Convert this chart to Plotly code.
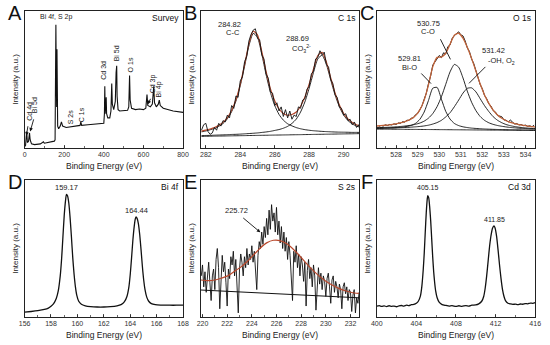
import plotly.graph_objects as go

FONT = "Liberation Sans, Arial, sans-serif"

# ---------------- A: survey ----------------
survey_be = [0, 5, 8, 11, 14, 20, 25, 28, 35, 50, 80, 95, 100, 120, 140, 150, 154, 156, 158, 160, 162,
             163.5, 165, 167, 172, 180, 186, 192, 210, 230, 260, 280, 284, 288, 320, 360, 395, 400, 403,
             405, 407, 410, 412, 414, 420, 430, 436, 440, 443, 450, 458, 462, 465, 467, 472, 480, 500,
             520, 526, 530, 533, 540, 560, 580, 600, 612, 618, 622, 635, 645, 652, 656, 665, 675, 680,
             685, 700, 750, 800]
survey_int = [1, 2, 8, 12, 4, 5, 11, 6, 3, 2.5, 3, 4.5, 3.5, 4, 4.5, 5, 6, 40, 90, 50, 30,
              72, 40, 16, 14, 16, 19, 16, 15, 15.5, 16, 16.5, 19, 16.5, 17, 17.5, 17.5, 18, 25,
              45, 25, 30, 37, 25, 22, 22, 27, 47, 32, 28, 34, 55, 60, 38, 28, 27, 27,
              27.5, 30, 53, 35, 29, 28, 28.5, 28, 29, 39, 31, 30, 32, 45, 33, 30, 32, 35,
              31, 29, 27, 26]

# ---------------- B: C 1s ----------------
c1s_be = [281.75 + 0.25 * i for i in range(38)]
c1s_bg = [8.5, 8.55, 8.61, 8.66, 8.72, 8.77, 8.82, 8.88, 8.93, 8.99, 9.04, 9.1, 9.15, 9.2, 9.26, 9.31,
          9.37, 9.42, 9.47, 9.53, 9.58, 9.64, 9.69, 9.74, 9.8, 9.85, 9.91, 9.96, 10.02, 10.07, 10.12,
          10.18, 10.23, 10.29, 10.34, 10.39, 10.45, 10.5]
c1s_cc = [11.8, 12.45, 13.31, 14.26, 15.82, 17.87, 21.32, 26.58, 34.33, 45.49, 59.64, 74.5, 83.65,
          80.8, 68.36, 53.51, 40.57, 31.02, 24.47, 20.33, 17.68, 16.14, 14.89, 14.04, 13.4, 12.95,
          12.61, 12.36, 12.12, 11.97, 11.82, 11.68, 11.58, 11.54, 11.49, 11.39, 11.4, 11.4]
c1s_co3 = [9.0, 9.15, 9.21, 9.36, 9.47, 9.57, 9.72, 9.88, 9.98, 10.14, 10.34, 10.55, 10.75, 11.0,
           11.36, 11.71, 12.17, 12.82, 13.47, 14.43, 15.78, 17.94, 21.09, 26.24, 33.6, 43.65, 55.11,
           65.06, 67.72, 60.97, 49.72, 38.88, 30.23, 24.09, 20.04, 17.59, 15.95, 15.0]
c1s_env = [12.3, 13.05, 13.91, 14.96, 16.57, 18.67, 22.22, 27.58, 35.38, 46.64, 60.94, 75.95, 85.25,
           82.6, 70.46, 55.91, 43.4, 34.42, 28.47, 25.23, 23.88, 24.44, 26.29, 30.54, 37.2, 46.75,
           57.81, 67.46, 69.82, 62.87, 51.42, 40.38, 31.58, 25.34, 21.19, 18.59, 16.9, 15.9]
c1s_raw_be = [281.75 + 0.125 * i for i in range(75)]
c1s_raw = [13, 17, 18, 12, 10, 11, 15, 13, 18, 16, 20, 19, 24, 22, 31, 29, 38, 37, 49, 52, 63, 67,
           78, 83, 86, 87, 80, 79, 68, 65, 54, 51, 41, 40, 31, 33, 27, 30, 23, 28, 22, 27, 21, 24,
           23, 30, 29, 35, 36, 43, 45, 54, 56, 65, 66, 71, 68, 70, 61, 59, 50, 47, 39, 37, 30, 29,
           24, 25, 20, 21, 17, 19, 15, 17, 12]

# ---------------- C: O 1s ----------------
o1s_be = [527.1 + 0.2 * i for i in range(38)]
o1s_bg = [13.8, 13.77, 13.75, 13.72, 13.69, 13.67, 13.64, 13.61, 13.58, 13.56, 13.53, 13.5, 13.48,
          13.45, 13.42, 13.4, 13.37, 13.34, 13.31, 13.29, 13.26, 13.23, 13.2, 13.18, 13.15, 13.12,
          13.1, 13.07, 13.04, 13.02, 12.99, 12.96, 12.94, 12.91, 12.88, 12.86, 12.83, 12.8]
o1s_bio = [14.34, 14.39, 14.49, 14.6, 14.75, 14.98, 15.27, 15.75, 16.52, 17.98, 20.92, 26.24, 34.68,
           43.65, 44.22, 35.6, 26.77, 21.14, 17.91, 16.36, 15.46, 14.93, 14.51, 14.27, 14.05, 13.87,
           13.74, 13.61, 13.52, 13.44, 13.37, 13.31, 13.26, 13.2, 13.15, 13.11, 13.06, 13.01]
o1s_co = [14.83, 14.95, 15.05, 15.16, 15.32, 15.59, 15.85, 16.2, 16.65, 17.3, 18.23, 19.6, 21.78,
          25.15, 30.22, 37.4, 46.47, 55.54, 61.01, 58.99, 51.16, 41.53, 33.4, 27.28, 22.95, 20.18,
          18.4, 17.25, 16.42, 15.85, 15.37, 14.98, 14.72, 14.45, 14.27, 14.11, 13.93, 13.8]
o1s_oh = [14.48, 14.53, 14.56, 14.62, 14.68, 14.79, 14.91, 15.04, 15.22, 15.45, 15.72, 16.1, 16.64,
          17.48, 18.57, 20.2, 22.67, 25.74, 30.11, 34.99, 40.06, 43.53, 43.9, 40.98, 35.95, 30.92,
          26.6, 22.87, 20.26, 18.45, 17.14, 16.28, 15.64, 15.17, 14.83, 14.53, 14.29, 14.07]
o1s_env = [16.05, 16.33, 16.6, 16.94, 17.37, 18.02, 18.75, 19.77, 21.23, 23.61, 27.81, 34.94, 46.14,
           59.38, 66.17, 66.4, 69.17, 75.74, 82.41, 83.76, 80.16, 73.53, 65.41, 56.17, 46.65, 38.73,
           32.54, 27.59, 24.12, 21.7, 19.9, 18.65, 17.74, 17.0, 16.49, 16.03, 15.62, 15.28]
o1s_raw_be = [527.2 + 0.1 * i for i in range(73)]
o1s_raw = [15.8, 16.5, 16.0, 16.9, 16.4, 17.2, 16.8, 17.6, 17.2, 18.3, 18.0, 19.2, 18.9, 20.3, 20.1,
           21.8, 22.0, 24.3, 25.2, 28.5, 30.8, 35.6, 40.0, 47.0, 52.6, 60.5, 62.8, 65.2, 67.5, 66.0,
           69.5, 68.6, 74.0, 75.2, 80.0, 82.0, 83.6, 84.8, 82.6, 81.8, 78.2, 73.2, 70.4, 65.0, 61.6,
           55.8, 52.0, 46.2, 43.2, 38.3, 36.0, 32.1, 30.6, 27.3, 26.4, 23.8, 23.3, 22.8, 20.5, 20.3,
           19.0, 20.4, 18.9, 17.5, 17.8, 16.8, 17.1, 16.3, 16.7, 15.8, 16.2, 15.5, 16.6]

# ---------------- D: Bi 4f ----------------
bi4f_be = [156.0, 156.5, 157.0, 157.5, 157.8, 158.0, 158.2, 158.4, 158.55, 158.7, 158.8, 158.9, 159.0,
           159.1, 159.17, 159.25, 159.35, 159.45, 159.55, 159.65, 159.75, 159.85, 159.95, 160.1,
           160.3, 160.6, 161.0, 161.5, 162.0, 162.5, 163.0, 163.3, 163.55, 163.75, 163.9, 164.0,
           164.1, 164.2, 164.3, 164.38, 164.44, 164.52, 164.62, 164.72, 164.82, 164.92, 165.02,
           165.12, 165.25, 165.4, 165.6, 165.9, 166.3, 167.0, 167.5, 168.0]
bi4f_int = [3.5, 4.0, 4.6, 5.5, 6.5, 7.8, 9.8, 13.5, 19, 30, 42, 58, 74, 85, 89.5, 88.5, 83, 72, 58,
            43, 31, 22, 16, 11.5, 9.3, 8.2, 7.6, 7.3, 7.3, 7.6, 8.2, 9.0, 11, 15, 22, 31, 43, 56, 66,
            71.5, 73, 72, 68, 60, 49, 37, 27, 20, 14.5, 11.5, 9.8, 9.0, 8.7, 8.6, 8.6, 8.7]

# ---------------- E: S 2s ----------------
s2s_raw_be = [219.9 + 0.1 * i for i in range(129)]
s2s_raw = [30, 38, 22, 33, 18, 28, 40, 25, 12, 30, 35, 20, 42, 50, 36, 6, 30, 45, 33, 40, 25, 8,
           35, 28, 44, 38, 48, 30, 42, 20, 3, 35, 46, 40, 30, 44, 36, 50, 38, 46, 42, 52, 40, 48,
           34, 20, 45, 55, 50, 62, 53, 66, 58, 72, 60, 78, 64, 82, 70, 76, 62, 80, 60, 70, 54, 66,
           50, 62, 48, 58, 42, 55, 45, 30, 12, 48, 40, 52, 36, 46, 30, 44, 38, 26, 40, 8, 34, 42,
           28, 36, 22, 38, 30, 5, 26, 36, 24, 32, 20, 30, 26, 15, 28, 32, 22, 10, 27, 30, 18, 26,
           22, 14, 24, 20, 6, 22, 25, 17, 22, 12, 20, 18, 4, 16, 20, 3, 14, 10, 18]
s2s_fit_be = [219.85, 220.46, 220.99, 221.5, 222.05, 222.57, 223.1, 223.63, 224.16, 224.69, 225.2,
              225.75, 226.28, 226.81, 227.34, 227.87, 228.4, 228.92, 229.45, 229.98, 230.51, 231.04,
              231.57, 232.1, 232.7]
s2s_fit = [27.0, 26.5, 27.0, 28.3, 30.0, 33.2, 36.4, 40.5, 45.5, 50.4, 54.1, 56.0, 55.8, 53.6, 49.6,
           44.7, 39.3, 34.4, 30.0, 26.3, 23.3, 20.9, 19.2, 17.9, 17.2]
s2s_bg_be = [219.85, 232.7]
s2s_bg = [19.7, 14.0]

# ---------------- F: Cd 3d ----------------
cd3d_be = [400.0, 400.25, 400.5, 400.75, 401.0, 401.25, 401.5, 401.75, 402.0, 402.25, 402.5, 402.75,
           403.0, 403.25, 403.5, 403.75, 404.0, 404.2, 404.4, 404.55, 404.7, 404.8, 404.9, 405.0,
           405.1, 405.15, 405.25, 405.35, 405.45, 405.55, 405.65, 405.75, 405.85, 405.95, 406.1,
           406.3, 406.6, 407.0, 407.3, 407.6, 408.0, 408.3, 408.6, 409.0, 409.3, 409.6, 410.0,
           410.3, 410.6, 410.8, 410.95, 411.1, 411.25, 411.4, 411.55, 411.7, 411.85, 411.95,
           412.1, 412.25, 412.4, 412.55, 412.7, 412.85, 413.0, 413.25, 413.5, 413.75, 414.0,
           414.25, 414.5, 414.75, 415.0, 415.25, 415.5, 415.75, 416.0]
cd3d_int = [7.9, 8.3, 7.7, 8.1, 7.6, 8.2, 7.8, 8.0, 7.5, 8.1, 8.4, 8.0, 8.6, 8.3, 9.0, 9.2, 10.0,
            11.5, 15, 22, 35, 47, 62, 76, 86, 88.5, 87, 80, 70, 57, 44, 33, 25, 19, 14, 10.8, 9.0,
            8.4, 7.9, 8.3, 7.7, 8.2, 7.8, 8.3, 7.9, 8.6, 8.8, 9.6, 11.5, 15, 21, 30, 41, 52, 60,
            65, 66.5, 65, 59, 49, 38, 28, 20, 15, 12, 10, 9.5, 9.2, 9.4, 9.0, 9.5, 9.3, 9.8, 9.6,
            10.2, 10.0, 10.5]

# ---------------- axes settings ----------------
panel_letters = ["A", "B", "C", "D", "E", "F"]
panel_names = ["Survey", "C 1s", "O 1s", "Bi 4f", "S 2s", "Cd 3d"]
x_title = "Binding Energy (eV)"
y_title = "Intensity (a.u.)"
x_ranges = [[0, 800], [281.7, 290.9], [527.1, 534.45], [156, 168], [219.85, 232.7], [400, 416]]
x_ticks = [[0, 200, 400, 600, 800], [282, 284, 286, 288, 290], [528, 529, 530, 531, 532, 533, 534],
           [156, 158, 160, 162, 164, 166, 168], [220, 222, 224, 226, 228, 230, 232],
           [400, 404, 408, 412, 416]]
x_minor = [100, 1, 0.5, 1, 1, 2]

W, H = 550, 345
cols = [(19, 181), (199, 361), (379, 541)]
rows = [(11, 148), (180, 317)]
title_y = [166, 335]

ENV = "#b9482c"
fig = go.Figure()


def sfx(i):
    return "" if i == 1 else str(i)


def add(i, x, y, color="#111111", width=0.9, spline=True):
    fig.add_trace(go.Scatter(x=x, y=y, mode="lines", xaxis="x" + sfx(i), yaxis="y" + sfx(i),
                             line=dict(color=color, width=width,
                                       shape="spline" if spline else "linear", smoothing=0.6),
                             showlegend=False, hoverinfo="skip"))


add(1, survey_be, survey_int, width=1.1, spline=False)

add(2, c1s_be, c1s_bg)
add(2, c1s_be, c1s_cc)
add(2, c1s_be, c1s_co3)
add(2, c1s_be, c1s_env, color=ENV, width=1.1)
add(2, c1s_raw_be, c1s_raw, width=0.9, spline=False)

add(3, o1s_be, o1s_bg)
add(3, o1s_be, o1s_bio)
add(3, o1s_be, o1s_co)
add(3, o1s_be, o1s_oh)
add(3, o1s_raw_be, o1s_raw, width=1.0, spline=False)
add(3, o1s_be, o1s_env, color="#c0633a", width=1.3)

add(4, bi4f_be, bi4f_int, width=1.3)

add(5, s2s_raw_be, s2s_raw, width=0.9, spline=False)
add(5, s2s_fit_be, s2s_fit, color=ENV, width=1.2)
add(5, s2s_bg_be, s2s_bg, width=1.0, spline=False)

add(6, cd3d_be, cd3d_int, width=1.3)

layout = dict(width=W, height=H, margin=dict(l=0, r=0, t=0, b=0),
              paper_bgcolor="white", plot_bgcolor="white",
              font=dict(family=FONT, color="#222"))
annotations = []
for k in range(6):
    i = k + 1
    s = sfx(i)
    c = cols[k % 3]
    r = rows[k // 3]
    xd = [c[0] / W, c[1] / W]
    yd = [1 - r[1] / H, 1 - r[0] / H]
    layout["xaxis" + s] = dict(
        domain=xd, anchor="y" + s, range=x_ranges[k], tickvals=x_ticks[k],
        ticks="inside", ticklen=3, tickwidth=0.8, tickcolor="#222",
        minor=dict(dtick=x_minor[k], ticks="inside", ticklen=2, tickcolor="#444", tick0=x_ticks[k][0]),
        showline=True, linecolor="#222", linewidth=1, mirror=True, showgrid=False, zeroline=False,
        tickfont=dict(size=7, color="#333"))
    layout["yaxis" + s] = dict(
        domain=yd, anchor="x" + s, range=[0, 100], showticklabels=False, ticks="",
        showline=True, linecolor="#222", linewidth=1, mirror=True, showgrid=False, zeroline=False,
        title=dict(text=y_title, font=dict(size=8, color="#222"), standoff=3))
    annotations.append(dict(text=x_title, xref="paper", yref="paper",
                            x=(c[0] + c[1]) / 2 / W, y=1 - title_y[k // 3] / H, showarrow=False,
                            xanchor="center", yanchor="middle",
                            font=dict(size=8.5, color="#222")))
    annotations.append(dict(text=panel_letters[k], xref="paper", yref="paper",
                            x=(c[0] - 10) / W, y=1 - (r[0] + 2) / H, showarrow=False,
                            xanchor="center", yanchor="middle",
                            font=dict(size=20, color="#111", family=FONT)))
    annotations.append(dict(text=panel_names[k], xref="x" + s + " domain", yref="y" + s + " domain",
                            x=0.985, y=0.95, showarrow=False, xanchor="right", yanchor="middle",
                            font=dict(size=8.5, color="#111")))


def label(i, text, x, y, size=7.5, angle=0):
    annotations.append(dict(text=text, xref="x" + sfx(i), yref="y" + sfx(i), x=x, y=y, showarrow=False,
                            xanchor="center", yanchor="middle", textangle=angle,
                            font=dict(size=size, color="#222")))


def arrow(i, x0, y0, x1, y1, head=0):
    s = sfx(i)
    annotations.append(dict(text="", xref="x" + s, yref="y" + s, axref="x" + s, ayref="y" + s,
                            x=x1, y=y1, ax=x0, ay=y0, showarrow=True, arrowhead=head,
                            arrowsize=0.8, arrowwidth=0.9, arrowcolor="#111"))


label(1, "Bi 4f, S 2p", 156.5, 95.8, size=7)
for txt, x, y in [("Cd 4d", 21, 27), ("Bi 5d", 54, 31.5), ("S 2s", 230, 22.5), ("C 1s", 285, 24),
                  ("Cd 3d", 400, 57), ("Bi 5d", 466, 69), ("O 1s", 532, 61), ("Cd 3p", 647, 47),
                  ("Bi 4p", 680, 43)]:
    label(1, txt, x, y, size=7, angle=-90)
arrow(1, 18, 17, 9, 9, head=2)
arrow(1, 48, 22, 28, 12, head=2)
arrow(1, 640, 37, 622, 32, head=2)

label(2, "284.82", 283.35, 89.8)
label(2, "C-C", 283.56, 84)
label(2, "288.69", 287.3, 79.6)
label(2, "CO<sub>3</sub><sup>2-</sup>", 287.55, 72.5)

label(3, "530.75", 529.5, 91.2)
label(3, "C-O", 529.5, 84.7)
label(3, "529.81", 528.6, 65.5)
label(3, "Bi-O", 528.64, 58.4)
label(3, "531.42", 532.5, 71.5)
label(3, "-OH, O<sub>2</sub>", 532.9, 63.5)
arrow(3, 529.1, 55.5, 529.62, 47)
arrow(3, 530.02, 80.5, 530.52, 64.7)
arrow(3, 532.21, 60.3, 531.38, 47.2)

label(4, "159.17", 159.17, 94.6)
label(4, "164.44", 164.44, 77.4)

label(5, "225.72", 222.78, 78.1)
arrow(5, 223.18, 73.2, 224.69, 61.8, head=2)

label(6, "405.15", 405.15, 94.6, size=7)
label(6, "411.85", 411.85, 71.5, size=7)

layout["annotations"] = annotations
fig.update_layout(**layout)
fig.write_html("out.html", config={"displayModeBar": False, "staticPlot": True},
               post_script="document.body.style.margin='0';document.body.style.overflow='hidden';")
